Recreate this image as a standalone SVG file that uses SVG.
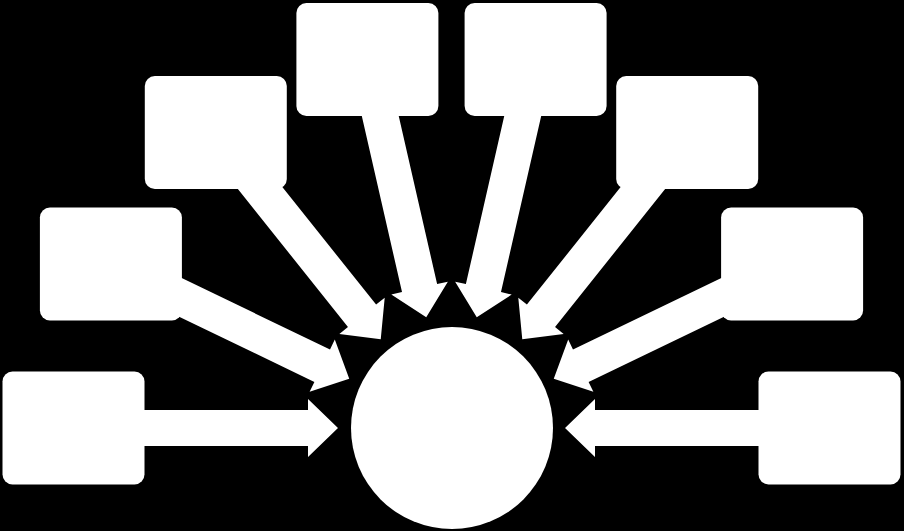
<svg xmlns="http://www.w3.org/2000/svg" width="904" height="531" viewBox="0 0 904 531">
  <style>
    .box { fill: #ffffff; }
    .hub { fill: #ffffff; }
    .arrow { fill: #ffffff; }
  </style>
  <defs>
    <path id="arrow" class="arrow" d="M -113.5 0 L -143.5 -29 L -143.5 -18 L -345 -18 L -345 18 L -143.5 18 L -143.5 29 Z"/>
  </defs>
  <rect x="0" y="0" width="904" height="531" fill="#000000"/>
  <g id="connectors">
    <use href="#arrow" transform="translate(451.5 428) rotate(0)"/>
    <use href="#arrow" transform="translate(451.5 428) rotate(25.714)"/>
    <use href="#arrow" transform="translate(451.5 428) rotate(51.429)"/>
    <use href="#arrow" transform="translate(451.5 428) rotate(77.143)"/>
    <use href="#arrow" transform="translate(451.5 428) rotate(102.857)"/>
    <use href="#arrow" transform="translate(451.5 428) rotate(128.571)"/>
    <use href="#arrow" transform="translate(451.5 428) rotate(154.286)"/>
    <use href="#arrow" transform="translate(451.5 428) rotate(180)"/>
  </g>
  <g id="node1"><rect class="box" x="2.5" y="371.5" width="142" height="113" rx="10"/></g>
  <g id="node2"><rect class="box" x="39.9" y="207.5" width="142" height="113" rx="10"/></g>
  <g id="node3"><rect class="box" x="144.8" y="76" width="142" height="113" rx="10"/></g>
  <g id="node4"><rect class="box" x="296.4" y="3" width="142" height="113" rx="10"/></g>
  <g id="node5"><rect class="box" x="464.6" y="3" width="142" height="113" rx="10"/></g>
  <g id="node6"><rect class="box" x="616.2" y="76" width="142" height="113" rx="10"/></g>
  <g id="node7"><rect class="box" x="721.1" y="207.5" width="142" height="113" rx="10"/></g>
  <g id="node8"><rect class="box" x="758.5" y="371.5" width="142" height="113" rx="10"/></g>
  <g id="hub"><circle class="hub" cx="452" cy="428" r="101"/></g>
</svg>
